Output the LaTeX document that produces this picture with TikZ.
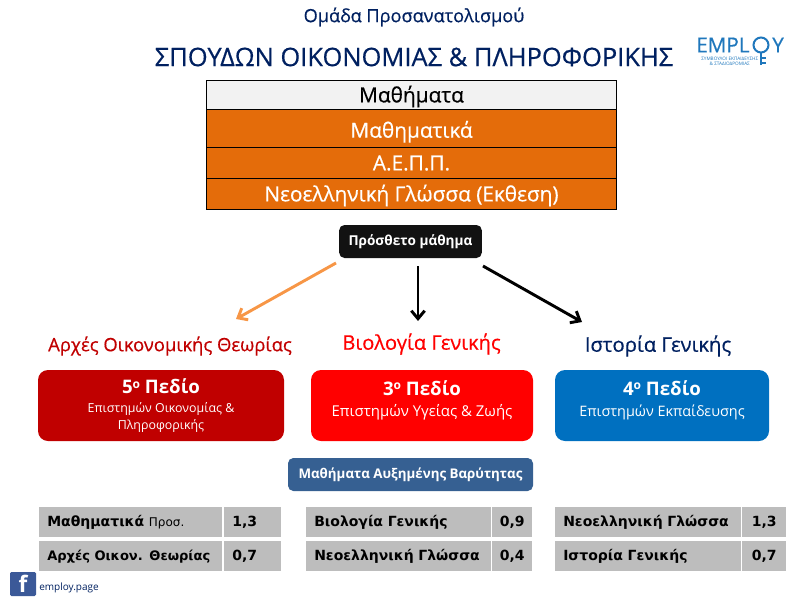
\documentclass[tikz,border=0pt]{standalone}
\usepackage{fontspec}
\setmainfont{Open Sans}
\newfontfamily\heavyfont[FakeBold=0.5]{Open Sans}
\newfontfamily\tablefont{DejaVu Sans}
\usepackage{tikz}
\usetikzlibrary{arrows.meta}
\definecolor{navytitle}{HTML}{002060}
\definecolor{lessonorange}{HTML}{E46C0A}
\definecolor{headgray}{HTML}{F2F2F2}
\definecolor{darkred}{HTML}{C00000}
\definecolor{fieldblue}{HTML}{0070C0}
\definecolor{pillblue}{HTML}{366092}
\definecolor{cellgray}{HTML}{BDBDBD}
\definecolor{arroworange}{HTML}{F79646}
\definecolor{fbblue}{HTML}{3B5998}
\definecolor{logoblue}{HTML}{1F77BC}
\newcommand{\fieldtitle}[1]{{\fontsize{14}{17}\selectfont\bfseries #1\raisebox{0.55ex}{\fontsize{9}{9}\selectfont ο} Πεδίο}}
\tikzset{
  lesson/.style={draw=black,fill=lessonorange,text=white,minimum width=307.5pt,inner sep=0pt,text height=13pt,text depth=1.2pt,font=\heavyfont\fontsize{15.6}{17}\selectfont},
  fieldbox/.style={rounded corners=7.5pt,text=white,align=center,inner sep=0pt,minimum height=53.25pt},
  subjecthead/.style={font=\heavyfont\fontsize{#1}{17}\selectfont},
  namecell/.style={fill=cellgray,anchor=north west,inner xsep=6pt,inner ysep=0pt,minimum height=22.5pt,align=left,font=\tablefont\bfseries\fontsize{10.5}{12}\selectfont},
  valcell/.style={fill=cellgray,anchor=north west,inner sep=0pt,minimum height=22.5pt,font=\tablefont\bfseries\fontsize{10.5}{12}\selectfont},
  pointer/.style={line width=2.2pt,-{Straight Barb[length=6pt,width=10pt]}},
  logoline/.style={logoblue,line width=1.5pt},
}
\begin{document}
\begin{tikzpicture}[x=0.75pt,y=-0.75pt]
    \useasboundingbox (0,0) rectangle (800,600);
    \node[text=navytitle,font=\heavyfont\fontsize{13.6}{16}\selectfont] (subject) at (414,17) {Ομάδα Προσανατολισμού};
    \node[text=navytitle,font=\heavyfont\fontsize{19.1}{22}\selectfont] (title) at (414,57) {ΣΠΟΥΔΩΝ ΟΙΚΟΝΟΜΙΑΣ \& ΠΛΗΡΟΦΟΡΙΚΗΣ};
    % logo
    \begin{scope}[shift={(696,36)}]
      \node[anchor=west,inner sep=0pt,text=logoblue,font=\heavyfont\fontsize{15.5}{16}\selectfont] (logotext) at (0,9) {EMPL};
      \node[anchor=west,inner sep=0pt,text=logoblue,font=\heavyfont\fontsize{15.5}{16}\selectfont] (logoy) at (76,9) {Y};
      \draw[logoline] (65,9) circle (7.5);
      \draw[logoline] (65,16.5) -- (65,29);
      \draw[logoline] (65,22) -- (70,22);
      \draw[logoline] (65,27) -- (70,27);
      \node[anchor=north west,inner sep=0pt,text=logoblue,align=center,font=\fontsize{3.5}{4}\selectfont] (logosub) at (5,21) {ΣΥΜΒΟΥΛΟΙ ΕΚΠΑΙΔΕΥΣΗΣ\\\& ΣΤΑΔΙΟΔΡΟΜΙΑΣ};
    \end{scope}
    % lessons
    \node[lesson,fill=headgray,text=black,minimum height=21.75pt] (lessonshead) at (411.5,94.5) {Μαθήματα};
    \node[lesson,minimum height=28.5pt,text height=15.5pt,text depth=1pt] (maths) at (411.5,128) {Μαθηματικά};
    \node[lesson,minimum height=23.25pt] (aepp) at (411.5,162.5) {Α.Ε.Π.Π.};
    \node[lesson,minimum height=23.25pt] (essay) at (411.5,193.5) {Νεοελληνική Γλώσσα (Εκθεση)};
    \node[fill=black!93,text=white,rounded corners=4pt,minimum width=107pt,minimum height=24.75pt,inner sep=0pt,font=\fontsize{10.2}{12}\selectfont\bfseries] (extra) at (410.5,241.5) {Πρόσθετο μάθημα};
    % arrows
    \coordinate (orangestart) at (336,263);
    \coordinate (midstart) at (418,266);
    \coordinate (rightstart) at (483,266);
    \coordinate (orangeend) at (236,319);
    \coordinate (midend) at (418,321);
    \coordinate (rightend) at (582,322);
    \draw[pointer,arroworange] (orangestart) -- (orangeend);
    \draw[pointer] (midstart) -- (midend);
    \draw[pointer] (rightstart) -- (rightend);
    % subjects
    \node[subjecthead=13.8,text=darkred] (econ) at (170,346) {Αρχές Οικονομικής Θεωρίας};
    \node[subjecthead=15.1,text=red] (bio) at (421.5,344) {Βιολογία Γενικής};
    \node[subjecthead=15.2,text=navytitle] (hist) at (658,346) {Ιστορία Γενικής};
    % fields
    \node[fieldbox,fill=darkred,minimum width=184.5pt,font=\fontsize{9.3}{12.3}\selectfont] (fieldfive) at (161,405.5) {\fieldtitle{5}\\[2pt]Επιστημών Οικονομίας \&\\Πληροφορικής};
    \node[fieldbox,fill=red,minimum width=166.5pt,font=\fontsize{11.2}{13}\selectfont] (fieldthree) at (422,405.5) {\fieldtitle{3}\\[3pt]Επιστημών Υγείας \& Ζωής\\[-6pt]\strut};
    \node[fieldbox,fill=fieldblue,minimum width=160.5pt,font=\fontsize{10.8}{13}\selectfont] (fieldfour) at (662,405.5) {\fieldtitle{4}\\[3pt]Επιστημών Εκπαίδευσης\\[-6pt]\strut};
    \node[fill=pillblue,text=white,rounded corners=4pt,minimum width=183.75pt,minimum height=24.75pt,inner sep=0pt,font=\fontsize{10}{12}\selectfont\bfseries] (weighted) at (410.5,474.5) {Μαθήματα Αυξημένης Βαρύτητας};
    % tables
    \begin{scope}[shift={(39,507)}]
      \node[namecell,text width=125.25pt] (econone) at (0,0) {Μαθηματικά {\mdseries\fontsize{9}{10}\selectfont Προσ.}};
      \node[namecell,text width=30.75pt] (econoneval) at (185,0) {1,3};
      \node[namecell,text width=125.25pt,font=\tablefont\bfseries\fontsize{9.8}{12}\selectfont] (econtwo) at (0,34) {Αρχές Οικον. Θεωρίας};
      \node[namecell,text width=30.75pt] (econtwoval) at (185,34) {0,7};
    \end{scope}
    \begin{scope}[shift={(306,507)}]
      \node[namecell,text width=126.75pt] (bioone) at (0,0) {Βιολογία Γενικής};
      \node[valcell,minimum width=30pt] (biooneval) at (186,0) {0,9};
      \node[namecell,text width=126.75pt] (biotwo) at (0,34) {Νεοελληνική Γλώσσα};
      \node[valcell,minimum width=30pt] (biotwoval) at (186,34) {0,4};
    \end{scope}
    \begin{scope}[shift={(555,507)}]
      \node[namecell,text width=127.5pt] (histone) at (0,0) {Νεοελληνική Γλώσσα};
      \node[valcell,minimum width=33pt] (histoneval) at (187,0) {1,3};
      \node[namecell,text width=127.5pt] (histtwo) at (0,34) {Ιστορία Γενικής};
      \node[valcell,minimum width=33pt] (histtwoval) at (187,34) {0,7};
    \end{scope}
    % footer
    \node[fill=fbblue,text=white,rounded corners=1pt,minimum width=19.5pt,minimum height=18pt,inner sep=0pt,font=\fontsize{17}{18}\selectfont\bfseries] (fbicon) at (23,584) {f};
    \node[anchor=west,inner sep=0pt,text=navytitle,font=\fontsize{7.5}{9}\selectfont] (fbpage) at (39,588) {employ.page};
\end{tikzpicture}
\end{document}
